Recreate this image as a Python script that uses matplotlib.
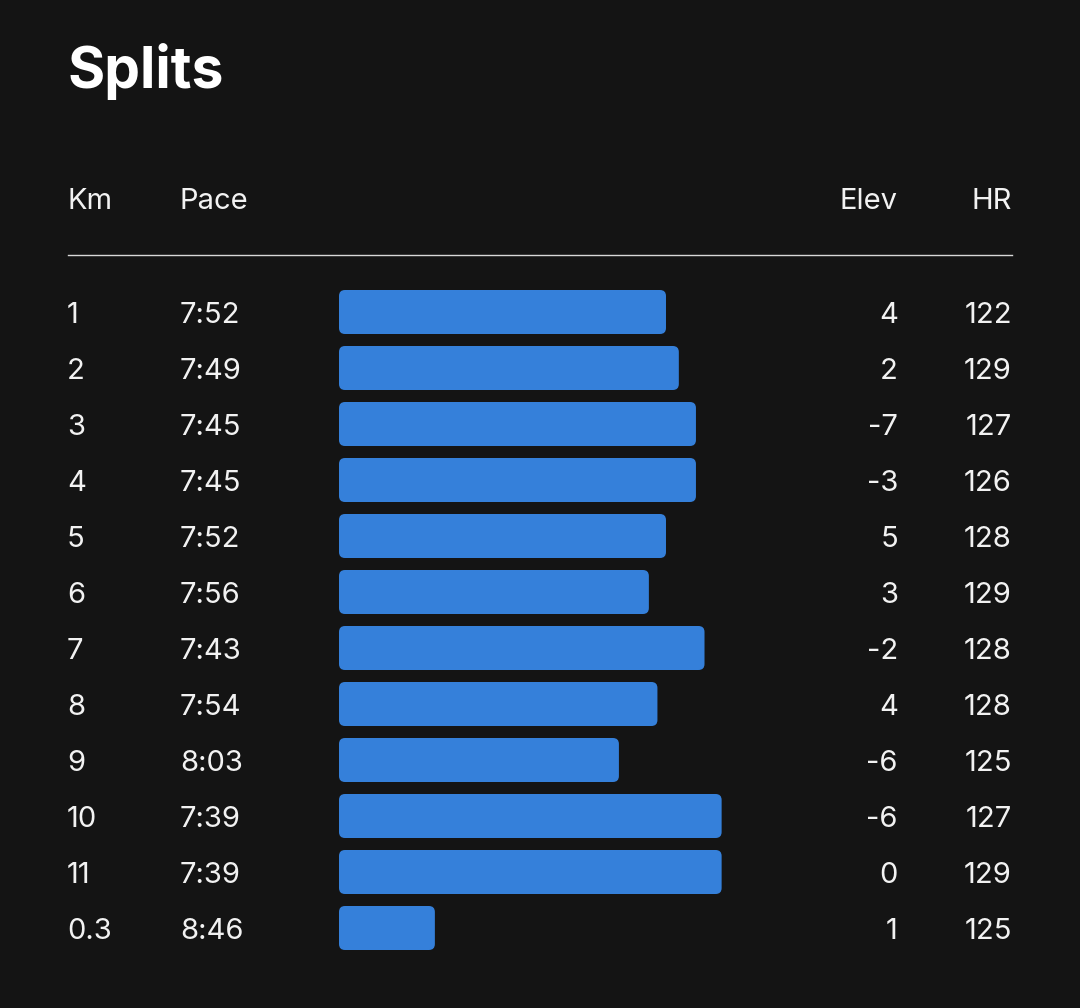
import matplotlib.pyplot as plt
import matplotlib.transforms as mtransforms
from matplotlib.patches import FancyBboxPatch

# split data
km_labels = ['1', '2', '3', '4', '5', '6', '7', '8', '9', '10', '11', '0.3']
paces = ['7:52', '7:49', '7:45', '7:45', '7:52', '7:56', '7:43', '7:54',
         '8:03', '7:39', '7:39', '8:46']
elev = [4, 2, -7, -3, 5, 3, -2, 4, -6, -6, 0, 1]
hr = [122, 129, 127, 126, 128, 129, 128, 128, 125, 127, 129, 125]

pace_sec = [int(p.split(':')[0]) * 60 + int(p.split(':')[1]) for p in paces]

bg = '#141414'
fg = '#f2f2f2'
bar_color = '#3580da'
plt.rcParams['font.family'] = ['Inter', 'DejaVu Sans']

W, H = 1080, 1008
fig = plt.figure(figsize=(W / 100, H / 100), dpi=100, facecolor=bg)

# bar axes: rows 0..11, x = pace (seconds), bars anchored at slow end
n = len(km_labels)
row_h = 56
row0 = 312
top_px = row0 - row_h / 2
bot_px = top_px + n * row_h
left_px, right_px = 339, 1012
px_per_sec = 4.28
anchor = 548.4  # pace at bar origin

ax = fig.add_axes([left_px / W, 1 - bot_px / H,
                   (right_px - left_px) / W, (bot_px - top_px) / H])
ax.set_facecolor(bg)
ax.set_xlim(anchor, anchor - (right_px - left_px) / px_per_sec)
ax.set_ylim(n - 0.5, -0.5)
ax.axis('off')

bar_h = 44 / row_h
radius = 6 / px_per_sec
aspect = px_per_sec / row_h
for i, p in enumerate(pace_sec):
    patch = FancyBboxPatch((p, i - bar_h / 2), anchor - p, bar_h,
                           boxstyle=f'round,pad=0,rounding_size={radius}',
                           mutation_aspect=aspect,
                           facecolor=bar_color, edgecolor='none')
    ax.add_patch(patch)

# text columns: x in figure fraction, y in rows
trans = mtransforms.blended_transform_factory(fig.transFigure, ax.transData)
x_km, x_pace, x_elev, x_hr = 67 / W, 180 / W, 898 / W, 1012 / W
fs = 21
base = 11 / row_h

for i in range(n):
    y = i + base
    ax.text(x_km, y, km_labels[i], transform=trans, color=fg, fontsize=fs,
            ha='left', va='baseline', clip_on=False)
    ax.text(x_pace, y, paces[i], transform=trans, color=fg, fontsize=fs,
            ha='left', va='baseline', clip_on=False)
    ax.text(x_elev, y, str(elev[i]), transform=trans, color=fg, fontsize=fs,
            ha='right', va='baseline', clip_on=False)
    ax.text(x_hr, y, str(hr[i]), transform=trans, color=fg, fontsize=fs,
            ha='right', va='baseline', clip_on=False)

# header row
y_head = (209 - row0) / row_h
for x, lab, ha in [(x_km, 'Km', 'left'), (x_pace, 'Pace', 'left'),
                   (x_elev, 'Elev', 'right'), (x_hr, 'HR', 'right')]:
    ax.text(x, y_head, lab, transform=trans, color=fg, fontsize=fs,
            ha=ha, va='baseline', clip_on=False)

# separator
y_line = (255 - row0) / row_h
ax.plot([68 / W, x_hr], [y_line, y_line], transform=trans, color='#d8d8d8',
        lw=1.0, clip_on=False)

# title
fig.text(68 / W, 1 - 88 / H, 'Splits', color='white', fontsize=41,
         fontweight='bold', ha='left', va='baseline')

fig.savefig('out.png', dpi=100, facecolor=bg)
